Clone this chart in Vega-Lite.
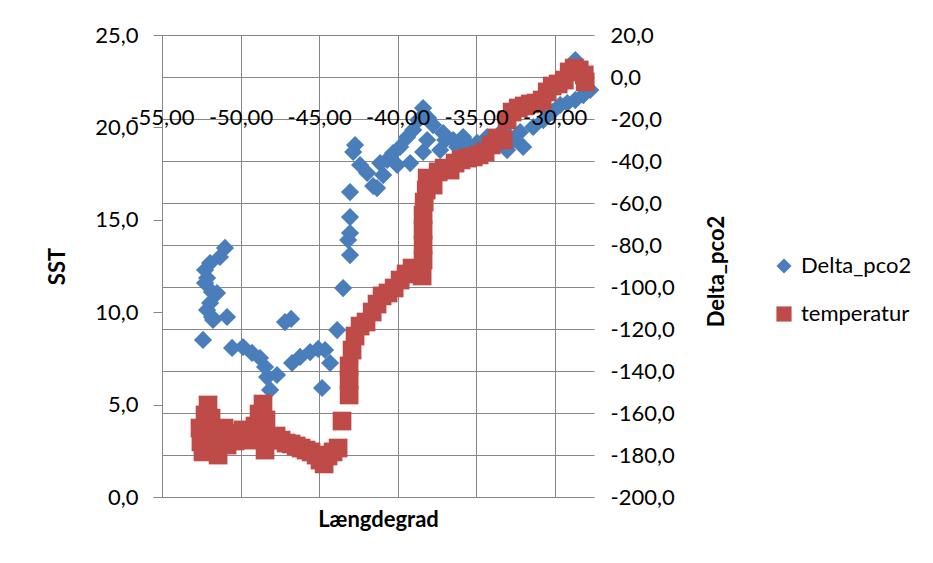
{
  "$schema": "https://vega.github.io/schema/vega-lite/v6.json",
  "width": 432,
  "height": 462,
  "autosize": {"type": "none"},
  "padding": {"left": 162, "top": 35, "right": 339, "bottom": 66},
  "background": "white",
  "data": {
    "values": [
      {"serie": "Delta_pco2", "laengdegrad": -52.39, "verdi": -125.2},
      {"serie": "Delta_pco2", "laengdegrad": -52.13, "verdi": -110.9},
      {"serie": "Delta_pco2", "laengdegrad": -51.82, "verdi": -114.3},
      {"serie": "Delta_pco2", "laengdegrad": -51.75, "verdi": -115.7},
      {"serie": "Delta_pco2", "laengdegrad": -51.94, "verdi": -107.6},
      {"serie": "Delta_pco2", "laengdegrad": -51.50, "verdi": -102.9},
      {"serie": "Delta_pco2", "laengdegrad": -51.82, "verdi": -102.4},
      {"serie": "Delta_pco2", "laengdegrad": -52.26, "verdi": -98.1},
      {"serie": "Delta_pco2", "laengdegrad": -52.13, "verdi": -95.7},
      {"serie": "Delta_pco2", "laengdegrad": -52.26, "verdi": -91.9},
      {"serie": "Delta_pco2", "laengdegrad": -51.94, "verdi": -88.6},
      {"serie": "Delta_pco2", "laengdegrad": -51.31, "verdi": -85.7},
      {"serie": "Delta_pco2", "laengdegrad": -50.99, "verdi": -81.4},
      {"serie": "Delta_pco2", "laengdegrad": -50.86, "verdi": -114.3},
      {"serie": "Delta_pco2", "laengdegrad": -50.54, "verdi": -129.0},
      {"serie": "Delta_pco2", "laengdegrad": -49.84, "verdi": -128.6},
      {"serie": "Delta_pco2", "laengdegrad": -49.27, "verdi": -131.4},
      {"serie": "Delta_pco2", "laengdegrad": -48.76, "verdi": -133.8},
      {"serie": "Delta_pco2", "laengdegrad": -48.44, "verdi": -138.1},
      {"serie": "Delta_pco2", "laengdegrad": -48.31, "verdi": -142.9},
      {"serie": "Delta_pco2", "laengdegrad": -48.12, "verdi": -149.0},
      {"serie": "Delta_pco2", "laengdegrad": -47.68, "verdi": -141.9},
      {"serie": "Delta_pco2", "laengdegrad": -47.17, "verdi": -116.7},
      {"serie": "Delta_pco2", "laengdegrad": -46.78, "verdi": -115.2},
      {"serie": "Delta_pco2", "laengdegrad": -46.72, "verdi": -136.2},
      {"serie": "Delta_pco2", "laengdegrad": -46.21, "verdi": -133.3},
      {"serie": "Delta_pco2", "laengdegrad": -45.57, "verdi": -131.0},
      {"serie": "Delta_pco2", "laengdegrad": -45.06, "verdi": -129.5},
      {"serie": "Delta_pco2", "laengdegrad": -44.62, "verdi": -130.0},
      {"serie": "Delta_pco2", "laengdegrad": -44.30, "verdi": -136.2},
      {"serie": "Delta_pco2", "laengdegrad": -44.81, "verdi": -148.1},
      {"serie": "Delta_pco2", "laengdegrad": -43.85, "verdi": -120.5},
      {"serie": "Delta_pco2", "laengdegrad": -43.47, "verdi": -100.5},
      {"serie": "Delta_pco2", "laengdegrad": -43.03, "verdi": -84.8},
      {"serie": "Delta_pco2", "laengdegrad": -43.15, "verdi": -77.6},
      {"serie": "Delta_pco2", "laengdegrad": -43.03, "verdi": -74.3},
      {"serie": "Delta_pco2", "laengdegrad": -43.03, "verdi": -66.7},
      {"serie": "Delta_pco2", "laengdegrad": -43.03, "verdi": -54.8},
      {"serie": "Delta_pco2", "laengdegrad": -42.71, "verdi": -32.4},
      {"serie": "Delta_pco2", "laengdegrad": -42.83, "verdi": -35.7},
      {"serie": "Delta_pco2", "laengdegrad": -42.39, "verdi": -41.9},
      {"serie": "Delta_pco2", "laengdegrad": -41.94, "verdi": -45.7},
      {"serie": "Delta_pco2", "laengdegrad": -41.56, "verdi": -51.9},
      {"serie": "Delta_pco2", "laengdegrad": -41.31, "verdi": -52.9},
      {"serie": "Delta_pco2", "laengdegrad": -41.11, "verdi": -41.0},
      {"serie": "Delta_pco2", "laengdegrad": -40.92, "verdi": -46.7},
      {"serie": "Delta_pco2", "laengdegrad": -40.67, "verdi": -39.5},
      {"serie": "Delta_pco2", "laengdegrad": -40.29, "verdi": -36.2},
      {"serie": "Delta_pco2", "laengdegrad": -40.03, "verdi": -41.9},
      {"serie": "Delta_pco2", "laengdegrad": -39.84, "verdi": -33.3},
      {"serie": "Delta_pco2", "laengdegrad": -39.39, "verdi": -28.6},
      {"serie": "Delta_pco2", "laengdegrad": -39.20, "verdi": -41.0},
      {"serie": "Delta_pco2", "laengdegrad": -39.01, "verdi": -25.2},
      {"serie": "Delta_pco2", "laengdegrad": -38.69, "verdi": -20.5},
      {"serie": "Delta_pco2", "laengdegrad": -38.38, "verdi": -14.8},
      {"serie": "Delta_pco2", "laengdegrad": -38.06, "verdi": -19.5},
      {"serie": "Delta_pco2", "laengdegrad": -37.74, "verdi": -22.9},
      {"serie": "Delta_pco2", "laengdegrad": -38.12, "verdi": -30.0},
      {"serie": "Delta_pco2", "laengdegrad": -38.38, "verdi": -35.7},
      {"serie": "Delta_pco2", "laengdegrad": -37.29, "verdi": -34.8},
      {"serie": "Delta_pco2", "laengdegrad": -37.10, "verdi": -26.7},
      {"serie": "Delta_pco2", "laengdegrad": -36.97, "verdi": -30.0},
      {"serie": "Delta_pco2", "laengdegrad": -36.46, "verdi": -30.0},
      {"serie": "Delta_pco2", "laengdegrad": -36.21, "verdi": -33.3},
      {"serie": "Delta_pco2", "laengdegrad": -35.83, "verdi": -28.6},
      {"serie": "Delta_pco2", "laengdegrad": -35.57, "verdi": -31.4},
      {"serie": "Delta_pco2", "laengdegrad": -35.38, "verdi": -34.8},
      {"serie": "Delta_pco2", "laengdegrad": -34.94, "verdi": -31.4},
      {"serie": "Delta_pco2", "laengdegrad": -34.30, "verdi": -28.6},
      {"serie": "Delta_pco2", "laengdegrad": -33.79, "verdi": -30.0},
      {"serie": "Delta_pco2", "laengdegrad": -33.28, "verdi": -25.2},
      {"serie": "Delta_pco2", "laengdegrad": -33.03, "verdi": -34.8},
      {"serie": "Delta_pco2", "laengdegrad": -32.64, "verdi": -30.0},
      {"serie": "Delta_pco2", "laengdegrad": -32.20, "verdi": -26.2},
      {"serie": "Delta_pco2", "laengdegrad": -32.01, "verdi": -33.3},
      {"serie": "Delta_pco2", "laengdegrad": -31.37, "verdi": -23.8},
      {"serie": "Delta_pco2", "laengdegrad": -30.73, "verdi": -20.5},
      {"serie": "Delta_pco2", "laengdegrad": -30.16, "verdi": -16.7},
      {"serie": "Delta_pco2", "laengdegrad": -29.65, "verdi": -13.3},
      {"serie": "Delta_pco2", "laengdegrad": -29.20, "verdi": -12.4},
      {"serie": "Delta_pco2", "laengdegrad": -28.69, "verdi": -11.0},
      {"serie": "Delta_pco2", "laengdegrad": -28.18, "verdi": -8.6},
      {"serie": "Delta_pco2", "laengdegrad": -27.74, "verdi": -6.2},
      {"serie": "Delta_pco2", "laengdegrad": -28.69, "verdi": 8.1},
      {"serie": "temperatur", "laengdegrad": -52.58, "verdi": 3.73},
      {"serie": "temperatur", "laengdegrad": -52.52, "verdi": 2.98},
      {"serie": "temperatur", "laengdegrad": -52.39, "verdi": 2.44},
      {"serie": "temperatur", "laengdegrad": -52.26, "verdi": 4.44},
      {"serie": "temperatur", "laengdegrad": -52.07, "verdi": 4.98},
      {"serie": "temperatur", "laengdegrad": -51.88, "verdi": 4.27},
      {"serie": "temperatur", "laengdegrad": -51.75, "verdi": 3.52},
      {"serie": "temperatur", "laengdegrad": -51.62, "verdi": 2.71},
      {"serie": "temperatur", "laengdegrad": -51.43, "verdi": 2.27},
      {"serie": "temperatur", "laengdegrad": -51.24, "verdi": 3.08},
      {"serie": "temperatur", "laengdegrad": -51.05, "verdi": 3.73},
      {"serie": "temperatur", "laengdegrad": -50.86, "verdi": 2.81},
      {"serie": "temperatur", "laengdegrad": -50.61, "verdi": 3.46},
      {"serie": "temperatur", "laengdegrad": -50.35, "verdi": 3.03},
      {"serie": "temperatur", "laengdegrad": -50.10, "verdi": 3.30},
      {"serie": "temperatur", "laengdegrad": -49.84, "verdi": 3.63},
      {"serie": "temperatur", "laengdegrad": -49.59, "verdi": 3.08},
      {"serie": "temperatur", "laengdegrad": -49.33, "verdi": 3.30},
      {"serie": "temperatur", "laengdegrad": -49.08, "verdi": 3.84},
      {"serie": "temperatur", "laengdegrad": -48.82, "verdi": 4.49},
      {"serie": "temperatur", "laengdegrad": -48.57, "verdi": 5.03},
      {"serie": "temperatur", "laengdegrad": -48.38, "verdi": 4.17},
      {"serie": "temperatur", "laengdegrad": -48.38, "verdi": 3.30},
      {"serie": "temperatur", "laengdegrad": -48.44, "verdi": 2.54},
      {"serie": "temperatur", "laengdegrad": -48.06, "verdi": 3.08},
      {"serie": "temperatur", "laengdegrad": -47.74, "verdi": 3.30},
      {"serie": "temperatur", "laengdegrad": -47.42, "verdi": 3.08},
      {"serie": "temperatur", "laengdegrad": -47.10, "verdi": 2.92},
      {"serie": "temperatur", "laengdegrad": -46.78, "verdi": 2.87},
      {"serie": "temperatur", "laengdegrad": -46.46, "verdi": 2.76},
      {"serie": "temperatur", "laengdegrad": -46.15, "verdi": 2.65},
      {"serie": "temperatur", "laengdegrad": -45.83, "verdi": 2.54},
      {"serie": "temperatur", "laengdegrad": -45.51, "verdi": 2.44},
      {"serie": "temperatur", "laengdegrad": -45.19, "verdi": 2.27},
      {"serie": "temperatur", "laengdegrad": -44.94, "verdi": 2.00},
      {"serie": "temperatur", "laengdegrad": -44.68, "verdi": 1.79},
      {"serie": "temperatur", "laengdegrad": -44.43, "verdi": 2.22},
      {"serie": "temperatur", "laengdegrad": -44.11, "verdi": 2.44},
      {"serie": "temperatur", "laengdegrad": -43.79, "verdi": 2.65},
      {"serie": "temperatur", "laengdegrad": -43.54, "verdi": 4.11},
      {"serie": "temperatur", "laengdegrad": -43.09, "verdi": 5.52},
      {"serie": "temperatur", "laengdegrad": -43.09, "verdi": 6.33},
      {"serie": "temperatur", "laengdegrad": -43.09, "verdi": 7.09},
      {"serie": "temperatur", "laengdegrad": -42.90, "verdi": 7.95},
      {"serie": "temperatur", "laengdegrad": -42.71, "verdi": 8.71},
      {"serie": "temperatur", "laengdegrad": -42.39, "verdi": 9.25},
      {"serie": "temperatur", "laengdegrad": -42.01, "verdi": 9.47},
      {"serie": "temperatur", "laengdegrad": -41.62, "verdi": 10.01},
      {"serie": "temperatur", "laengdegrad": -41.31, "verdi": 10.44},
      {"serie": "temperatur", "laengdegrad": -40.99, "verdi": 10.88},
      {"serie": "temperatur", "laengdegrad": -40.61, "verdi": 11.04},
      {"serie": "temperatur", "laengdegrad": -40.22, "verdi": 11.31},
      {"serie": "temperatur", "laengdegrad": -39.84, "verdi": 11.74},
      {"serie": "temperatur", "laengdegrad": -39.46, "verdi": 12.07},
      {"serie": "temperatur", "laengdegrad": -39.08, "verdi": 12.39},
      {"serie": "temperatur", "laengdegrad": -38.69, "verdi": 12.28},
      {"serie": "temperatur", "laengdegrad": -38.44, "verdi": 11.96},
      {"serie": "temperatur", "laengdegrad": -38.38, "verdi": 12.82},
      {"serie": "temperatur", "laengdegrad": -38.38, "verdi": 13.64},
      {"serie": "temperatur", "laengdegrad": -38.38, "verdi": 14.45},
      {"serie": "temperatur", "laengdegrad": -38.38, "verdi": 15.26},
      {"serie": "temperatur", "laengdegrad": -38.31, "verdi": 15.96},
      {"serie": "temperatur", "laengdegrad": -38.18, "verdi": 16.61},
      {"serie": "temperatur", "laengdegrad": -38.12, "verdi": 17.26},
      {"serie": "temperatur", "laengdegrad": -37.74, "verdi": 16.88},
      {"serie": "temperatur", "laengdegrad": -37.42, "verdi": 17.59},
      {"serie": "temperatur", "laengdegrad": -37.04, "verdi": 17.80},
      {"serie": "temperatur", "laengdegrad": -36.66, "verdi": 17.69},
      {"serie": "temperatur", "laengdegrad": -36.34, "verdi": 18.07},
      {"serie": "temperatur", "laengdegrad": -35.96, "verdi": 18.24},
      {"serie": "temperatur", "laengdegrad": -35.57, "verdi": 18.34},
      {"serie": "temperatur", "laengdegrad": -35.19, "verdi": 18.40},
      {"serie": "temperatur", "laengdegrad": -34.81, "verdi": 18.51},
      {"serie": "temperatur", "laengdegrad": -34.43, "verdi": 18.67},
      {"serie": "temperatur", "laengdegrad": -34.04, "verdi": 19.05},
      {"serie": "temperatur", "laengdegrad": -33.66, "verdi": 19.43},
      {"serie": "temperatur", "laengdegrad": -33.28, "verdi": 19.32},
      {"serie": "temperatur", "laengdegrad": -33.03, "verdi": 20.40},
      {"serie": "temperatur", "laengdegrad": -32.71, "verdi": 20.83},
      {"serie": "temperatur", "laengdegrad": -32.32, "verdi": 21.05},
      {"serie": "temperatur", "laengdegrad": -31.94, "verdi": 21.16},
      {"serie": "temperatur", "laengdegrad": -31.56, "verdi": 21.27},
      {"serie": "temperatur", "laengdegrad": -31.18, "verdi": 21.32},
      {"serie": "temperatur", "laengdegrad": -30.80, "verdi": 21.48},
      {"serie": "temperatur", "laengdegrad": -30.48, "verdi": 21.92},
      {"serie": "temperatur", "laengdegrad": -30.16, "verdi": 22.24},
      {"serie": "temperatur", "laengdegrad": -29.78, "verdi": 22.35},
      {"serie": "temperatur", "laengdegrad": -29.39, "verdi": 22.56},
      {"serie": "temperatur", "laengdegrad": -29.08, "verdi": 23.00},
      {"serie": "temperatur", "laengdegrad": -28.76, "verdi": 23.21},
      {"serie": "temperatur", "laengdegrad": -28.44, "verdi": 23.11},
      {"serie": "temperatur", "laengdegrad": -28.12, "verdi": 22.84},
      {"serie": "temperatur", "laengdegrad": -28.06, "verdi": 22.46}
    ]
  },
  "encoding": {
    "color": {
      "field": "serie",
      "type": "nominal",
      "scale": {"domain": ["Delta_pco2", "temperatur"], "range": ["#4A7EBB", "#BE4B48"]},
      "legend": {"title": null}
    },
    "shape": {
      "field": "serie",
      "type": "nominal",
      "scale": {"domain": ["Delta_pco2", "temperatur"], "range": ["diamond", "square"]},
      "legend": {"title": null}
    }
  },
  "layer": [
    {
      "transform": [{"filter": "datum.serie == 'Delta_pco2'"}],
      "mark": {"type": "point", "filled": true, "opacity": 1, "size": 330, "strokeWidth": 0},
      "encoding": {
        "x": {
          "field": "laengdegrad",
          "type": "quantitative",
          "scale": {"domain": [-55, -27.5], "nice": false, "zero": false},
          "axis": {
            "orient": "bottom",
            "values": [-55, -50, -45, -40, -35, -30],
            "grid": true,
            "gridColor": "#868686",
            "gridOpacity": 1,
            "labels": false,
            "ticks": false,
            "domain": false,
            "title": null
          }
        },
        "y": {
          "field": "verdi",
          "type": "quantitative",
          "scale": {"domain": [-200, 20], "nice": false, "zero": false},
          "axis": {
            "orient": "right",
            "values": [-200, -180, -160, -140, -120, -100, -80, -60, -40, -20, 0, 20],
            "format": ".1f",
            "grid": true,
            "gridColor": "#868686",
            "gridOpacity": 1,
            "domain": false,
            "ticks": false,
            "labelPadding": 16,
            "labelOverlap": false,
            "title": "Delta_pco2",
            "titleAngle": -90,
            "titleX": 122,
            "titleY": 236,
            "titleAlign": "center",
            "titleBaseline": "middle"
          }
        }
      }
    },
    {
      "transform": [{"filter": "datum.serie == 'temperatur'"}],
      "mark": {"type": "point", "filled": true, "opacity": 1, "size": 350, "strokeWidth": 0},
      "encoding": {
        "x": {
          "field": "laengdegrad",
          "type": "quantitative",
          "axis": {
            "orient": "bottom",
            "offset": -378,
            "values": [-55, -50, -45, -40, -35, -30],
            "format": ".2f",
            "grid": false,
            "ticks": false,
            "domain": false,
            "labelBaseline": "middle",
            "labelPadding": -2,
            "labelOverlap": false,
            "labelBound": false,
            "labelFlush": false,
            "zindex": 1,
            "title": "Længdegrad",
            "titleY": 407,
            "titleBaseline": "alphabetic"
          }
        },
        "y": {
          "field": "verdi",
          "type": "quantitative",
          "scale": {"domain": [0, 25], "nice": false, "zero": false},
          "axis": {
            "orient": "left",
            "values": [0, 5, 10, 15, 20, 25],
            "format": ".1f",
            "grid": false,
            "domain": false,
            "ticks": true,
            "tickSize": 9,
            "tickColor": "#868686",
            "labelPadding": 15,
            "labelOverlap": false,
            "title": "SST",
            "titleAngle": -90,
            "titleX": -105,
            "titleY": 231,
            "titleAlign": "center",
            "titleBaseline": "middle"
          }
        }
      }
    }
  ],
  "resolve": {
    "scale": {"y": "independent"},
    "axis": {"x": "independent", "y": "independent"}
  },
  "config": {
    "locale": {
      "number": {"decimal": ",", "thousands": ".", "grouping": [3], "currency": ["", " kr."], "minus": "-"}
    },
    "font": "Lato",
    "view": {"stroke": null},
    "axis": {
      "labelFont": "Lato",
      "labelFontSize": 22,
      "labelColor": "#000000",
      "titleFont": "Lato",
      "titleFontSize": 22,
      "titleFontWeight": "bold",
      "titleColor": "#000000",
      "gridWidth": 1
    },
    "legend": {
      "orient": "none",
      "legendX": 611,
      "legendY": 220,
      "padding": 0,
      "labelFont": "Lato",
      "labelFontSize": 22,
      "labelColor": "#000000",
      "symbolSize": 230,
      "symbolStrokeWidth": 0,
      "rowPadding": 26,
      "labelOffset": 6
    }
  }
}
